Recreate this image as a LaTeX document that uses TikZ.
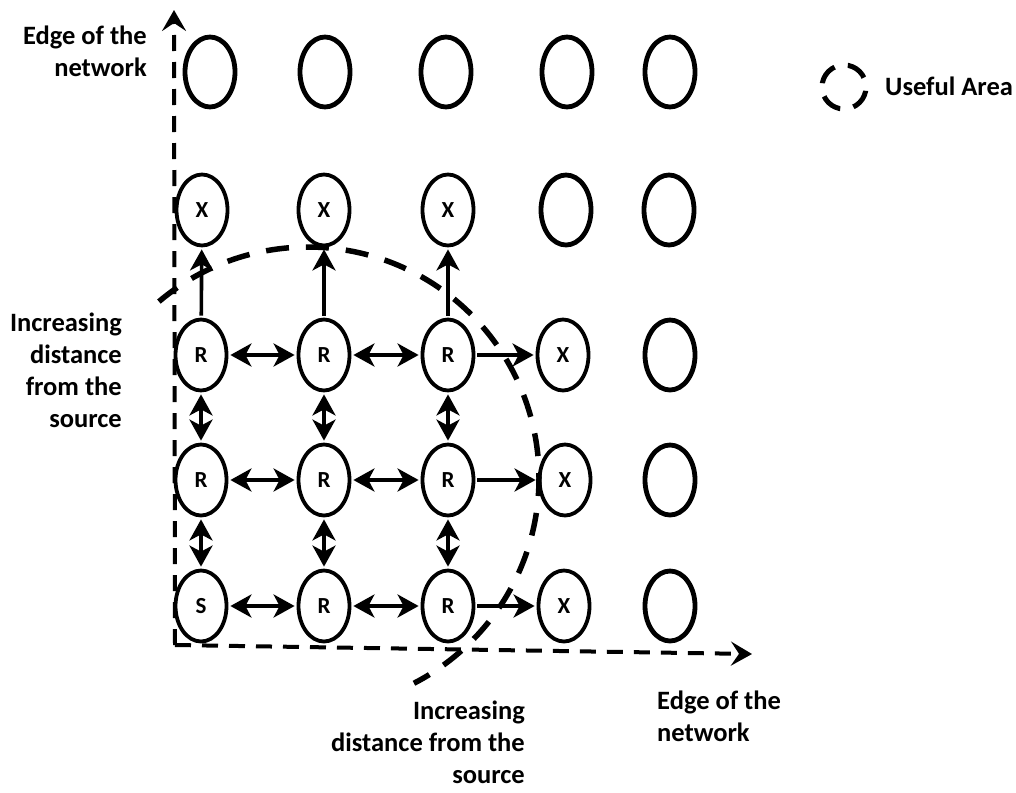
\documentclass[tikz,border=0pt]{standalone}
\usepackage{fontspec}
\setmainfont{Carlito}
\usetikzlibrary{shapes.geometric,arrows.meta}
\begin{document}
\begin{tikzpicture}[x=1pt,y=-1pt,
  cell/.style={ellipse, draw, line width=3.8pt, minimum width=51pt, minimum height=71pt, inner sep=0pt, font=\bfseries\fontsize{23}{23}\selectfont},
  blank/.style={cell, line width=4.8pt, minimum width=50pt, minimum height=70pt},
  tipA/.tip={Stealth[length=21pt,width=23pt,inset=6pt]},
  link/.style={line width=3.6pt, -tipA, shorten >=2pt, shorten <=2pt},
  dlink/.style={line width=3.6pt, tipA-tipA, shorten >=2pt, shorten <=2pt},
  axis/.style={line width=4pt, dash pattern=on 16pt off 11pt, -{Stealth[length=21pt,width=24pt,inset=8pt]}},
  area/.style={line width=5.5pt, dash pattern=on 23pt off 17pt},
  lbl/.style={font=\bfseries\fontsize{26.5}{32}\selectfont, inner sep=0pt}
]
\useasboundingbox (0,0) rectangle (1016,792);

% row 1
\node[blank] (n11) at (210,72) {};
\node[blank] (n12) at (325,72) {};
\node[blank] (n13) at (446,72) {};
\node[blank] (n14) at (567,72) {};
\node[blank] (n15) at (670,72) {};
% row 2
\node[cell] (n21) at (202,210) {X};
\node[cell] (n22) at (324,210) {X};
\node[cell] (n23) at (448,210) {X};
\node[blank] (n24) at (566,210) {};
\node[blank] (n25) at (669,210) {};
% row 3
\node[cell] (n31) at (201,355) {R};
\node[cell] (n32) at (324,355) {R};
\node[cell] (n33) at (448,355) {R};
\node[cell] (n34) at (563,355) {X};
\node[blank] (n35) at (670,355) {};
% row 4
\node[cell] (n41) at (201,480) {R};
\node[cell] (n42) at (324,480) {R};
\node[cell] (n43) at (448,480) {R};
\node[cell] (n44) at (565,480) {X};
\node[blank] (n45) at (670,480) {};
% row 5
\node[cell] (n51) at (201,606) {S};
\node[cell] (n52) at (324,606) {R};
\node[cell] (n53) at (448,606) {R};
\node[cell] (n54) at (564,606) {X};
\node[blank] (n55) at (670,606) {};

% connectors
\draw[dlink] (n31) -- (n32);
\draw[dlink] (n32) -- (n33);
\draw[link] (n33) -- (n34);
\draw[dlink] (n41) -- (n42);
\draw[dlink] (n42) -- (n43);
\draw[link] (n43) -- (n44);
\draw[dlink] (n51) -- (n52);
\draw[dlink] (n52) -- (n53);
\draw[link] (n53) -- (n54);
\foreach \c in {1,2,3}{
  \draw[dlink] (n3\c) -- (n4\c);
  \draw[dlink] (n4\c) -- (n5\c);
  \draw[link] (n3\c) -- (n2\c);
}

% axes
\coordinate (corner) at (175,645);
\coordinate (ytop) at (174,10);
\coordinate (xend) at (752,654);
\draw[axis] (corner) -- (ytop);
\draw[axis] (corner) -- (xend);

% useful area
\coordinate (ctr) at (308,478);
\draw[area] (ctr) ++(130.2:231pt) arc[start angle=130.2, end angle=-62.7, radius=231pt];

% legend
\node[circle, draw, line width=5pt, minimum size=44pt, inner sep=0pt, dash pattern=on 21pt off 13.5pt, dash phase=24.8pt] (leg) at (844,87) {};
\node[lbl, anchor=base west] (legtxt) at (885,95) {Useful Area};

% labels
\node[lbl, align=right, anchor=north east] (ltop) at (147,26) {Edge of the\\network};
\node[lbl, align=right, anchor=north east] (lleft) at (122,313) {Increasing\\distance\\from the\\source};
\node[lbl, align=right, anchor=north east] (lbot) at (525,701) {Increasing\\distance from the\\source};
\node[lbl, align=left, anchor=north west] (lright) at (657,691) {Edge of the\\network};
\end{tikzpicture}
\end{document}
